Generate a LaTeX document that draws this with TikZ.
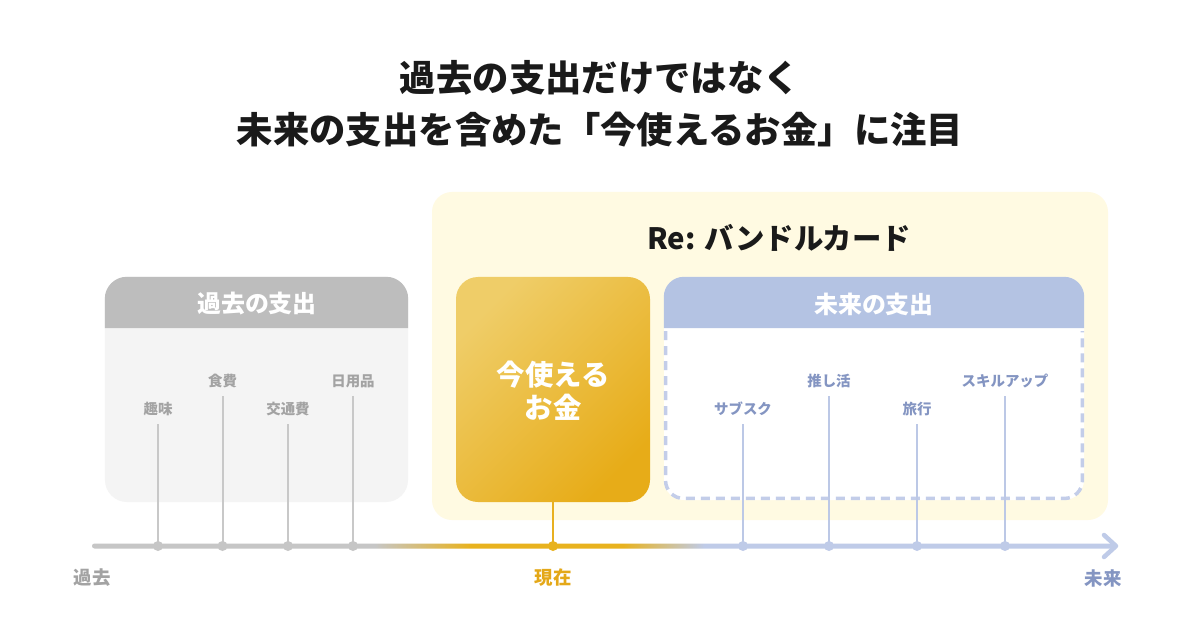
\documentclass[tikz,border=0pt]{standalone}
\usepackage{fontspec}
\setmainfont{Noto Sans CJK JP}
\definecolor{ink}{HTML}{1A1A1A}
\definecolor{hdrgray}{HTML}{BDBDBD}
\definecolor{bodygray}{HTML}{F4F4F4}
\definecolor{pastline}{HTML}{C8C8C8}
\definecolor{pasttext}{HTML}{A3A3A3}
\definecolor{paleyellow}{HTML}{FFFAE2}
\definecolor{goldlt}{HTML}{EFCD68}
\definecolor{golddk}{HTML}{E7AC18}
\definecolor{gold}{HTML}{E8B020}
\definecolor{goldtext}{HTML}{E4A818}
\definecolor{hdrblue}{HTML}{B4C3E3}
\definecolor{dashblue}{HTML}{C3CDE9}
\definecolor{futline}{HTML}{BCC8E6}
\definecolor{futtext}{HTML}{8495C2}
\definecolor{axgray}{HTML}{C6C6C6}
\definecolor{axgold}{HTML}{E8B21E}
\definecolor{axblue}{HTML}{BFCBE8}
\pgfdeclarehorizontalshading{axisgrad}{100bp}{color(0bp)=(axgray); color(38.8bp)=(axgray); color(43.5bp)=(axgold); color(50.9bp)=(axgold); color(54.9bp)=(axblue); color(100bp)=(axblue)}
\tikzset{
  titletext/.style={font=\bfseries\fontsize{36.5}{52}\selectfont, text=ink, align=center, inner sep=0},
  hdrtext/.style={font=\bfseries\fontsize{24}{28}\selectfont, text=white, inner sep=0},
  pastlbl/.style={font=\bfseries\fontsize{14.5}{17}\selectfont, text=pasttext, inner sep=0},
  futlbl/.style={font=\bfseries\fontsize{14.5}{17}\selectfont, text=futtext, inner sep=0},
  pastlink/.style={draw=pastline, line width=2bp},
  futlink/.style={draw=futline, line width=2bp},
  axlbl/.style={font=\bfseries\fontsize{18.5}{22}\selectfont, inner sep=0},
  boxbase/.style={rectangle, rounded corners=22bp, inner sep=0, draw=none},
}
\begin{document}
\begin{tikzpicture}[x=1bp,y=-1bp]
\useasboundingbox (0,0) rectangle (1200,630);
\fill[white] (0,0) rectangle (1200,630);

% title
\node[titletext] (title) at (600,104) {過去の支出だけではなく\\未来の支出を含めた「今使えるお金」に注目};

% yellow background
\node[boxbase, rounded corners=20bp, fill=paleyellow, minimum width=676bp, minimum height=328bp] (rebg) at (770,356) {};
\node[font=\bfseries\fontsize{29.5}{33}\selectfont, text=ink, inner sep=0] (retitle) at (779,238) {Re: バンドルカード};

% past box
\node[boxbase, fill=bodygray, minimum width=303bp, minimum height=225bp] (past) at (256.5,389.5) {};
\fill[hdrgray] (past.west |- 0,328) [rounded corners=22bp] -- (past.north west) -- (past.north east) [sharp corners] -- (past.east |- 0,328) -- cycle;
\node[hdrtext] (pasthdr) at (257,304) {過去の支出};

% gold box
\node[boxbase, top color=goldlt, bottom color=golddk, shading angle=45, minimum width=194bp, minimum height=225bp] (now) at (553,389.5) {};
\node[font=\bfseries\fontsize{28.5}{33}\selectfont, text=white, align=center, inner sep=0] (nowtext) at (553,391) {今使える\\お金};

% future box
\node[boxbase, rounded corners=20bp, fill=white, minimum width=420bp, minimum height=223bp] (fut) at (874,388.5) {};
\fill[hdrblue] (fut.west |- 0,328) [rounded corners=20bp] -- (fut.north west) -- (fut.north east) [sharp corners] -- (fut.east |- 0,328) -- cycle;
\draw[dashblue, line width=3.5bp, dash pattern=on 9bp off 6bp] ([xshift=1.75bp]fut.west |- 0,331) [rounded corners=18bp] -- ([xshift=1.75bp,yshift=1.75bp]fut.south west) -- ([xshift=-1.75bp,yshift=1.75bp]fut.south east) [sharp corners] -- ([xshift=-1.75bp]fut.east |- 0,331);
\node[hdrtext] (futhdr) at (874,304) {未来の支出};

% tick coordinates
\coordinate (p1) at (158,546);
\coordinate (p2) at (222.5,546);
\coordinate (p3) at (288,546);
\coordinate (p4) at (353,546);
\coordinate (tn) at (553,546);
\coordinate (f1) at (743,546);
\coordinate (f2) at (829,546);
\coordinate (f3) at (917,546);
\coordinate (f4) at (1005,546);
\coordinate (axstart) at (92,546);
\coordinate (axend) at (1116,546);

% labels
\node[pastlbl] (l1) at (158,409) {趣味};
\node[pastlbl] (l2) at (222.5,381) {食費};
\node[pastlbl] (l3) at (288,409) {交通費};
\node[pastlbl] (l4) at (353,381) {日用品};
\node[futlbl] (g1) at (743,409) {サブスク};
\node[futlbl] (g2) at (829,381) {推し活};
\node[futlbl] (g3) at (917,409) {旅行};
\node[futlbl] (g4) at (1005,381) {スキルアップ};

% connectors
\path[pastlink] ([yshift=-8bp]l1.south) -- (p1);
\path[pastlink] ([yshift=-8bp]l2.south) -- (p2);
\path[pastlink] ([yshift=-8bp]l3.south) -- (p3);
\path[pastlink] ([yshift=-8bp]l4.south) -- (p4);
\path[futlink] ([yshift=-8bp]g1.south) -- (f1);
\path[futlink] ([yshift=-8bp]g2.south) -- (f2);
\path[futlink] ([yshift=-8bp]g3.south) -- (f3);
\path[futlink] ([yshift=-8bp]g4.south) -- (f4);
\draw[gold, line width=2bp] (now.south) -- (tn);

% axis
\shade[shading=axisgrad, rounded corners=2.5bp] ([yshift=2.5bp]axstart) rectangle ([yshift=-2.5bp]axend);
\draw[axblue, line width=4.5bp, line cap=round, line join=round] ([xshift=-12bp,yshift=11bp]axend) -- (axend) -- ([xshift=-12bp,yshift=-11bp]axend);
\foreach \c in {p1,p2,p3,p4} \fill[axgray] (\c) circle (5bp);
\fill[axgold] (tn) circle (5bp);
\foreach \c in {f1,f2,f3,f4} \fill[axblue] (\c) circle (5bp);

% axis labels
\node[axlbl, text=pasttext] (lpast) at (92,578) {過去};
\node[axlbl, text=goldtext] (lnow) at (553,578) {現在};
\node[axlbl, text=futtext] (lfut) at (1103,578) {未来};
\end{tikzpicture}
\end{document}
